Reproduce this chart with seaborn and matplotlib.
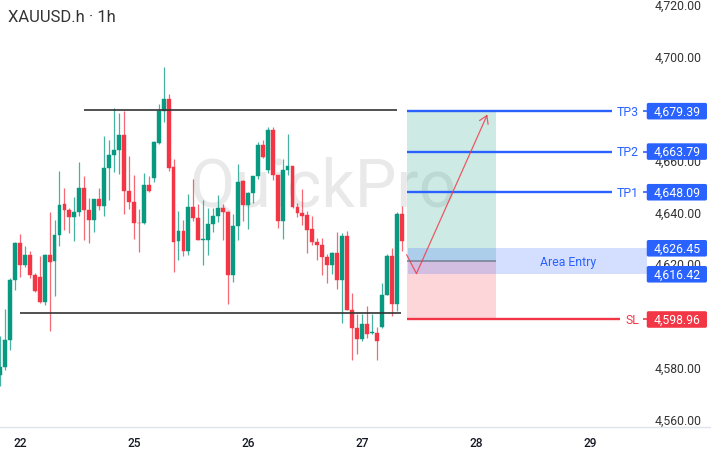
import numpy as np
import pandas as pd
import matplotlib.pyplot as plt
from matplotlib.patches import Rectangle, FancyBboxPatch
from matplotlib.transforms import ScaledTranslation
import seaborn as sns

# Hourly candles
opens = [4577.4, 4580.6, 4591.2, 4614.1, 4628.5, 4620.1, 4624.0, 4616.3, 4615.3, 4605.6,
         4624.0, 4621.4, 4631.7, 4643.4, 4641.3, 4638.6, 4640.4, 4649.8, 4641.3, 4637.5,
         4645.5, 4642.9, 4657.5, 4662.4, 4664.4, 4670.2, 4648.7, 4644.3, 4636.4, 4636.2,
         4650.9, 4653.4, 4667.1, 4679.6, 4683.9, 4657.7, 4629.2, 4633.1, 4625.4, 4642.5,
         4638.0, 4629.7, 4629.8, 4636.0, 4639.1, 4642.0, 4640.6, 4616.0, 4635.2, 4652.5,
         4643.1, 4647.8, 4654.3, 4666.4, 4656.6, 4672.1, 4654.6, 4636.9, 4656.6, 4658.2,
         4642.4, 4640.2, 4639.3, 4633.9, 4628.7, 4627.8, 4622.9, 4620.0, 4624.5, 4614.2,
         4631.3, 4602.6, 4595.8, 4591.3, 4597.4, 4593.7, 4593.6, 4596.0, 4608.6, 4623.3,
         4604.8, 4639.8]
highs = [4592.5, 4603.0, 4615.0, 4628.8, 4631.9, 4627.2, 4625.3, 4616.9, 4623.6, 4624.3,
         4640.4, 4637.3, 4656.2, 4649.8, 4642.0, 4646.3, 4659.7, 4654.3, 4645.9, 4645.6,
         4649.8, 4669.7, 4668.4, 4680.6, 4678.5, 4679.4, 4662.0, 4654.8, 4641.8, 4655.5,
         4654.5, 4667.8, 4682.2, 4696.5, 4686.0, 4660.9, 4641.0, 4637.5, 4647.4, 4653.2,
         4643.6, 4645.0, 4642.0, 4642.0, 4646.9, 4643.7, 4640.7, 4639.6, 4659.0, 4653.0,
         4648.1, 4654.5, 4667.5, 4668.4, 4673.4, 4673.4, 4654.8, 4660.8, 4670.4, 4658.4,
         4644.0, 4649.2, 4640.8, 4638.9, 4630.5, 4630.5, 4624.1, 4625.0, 4632.8, 4632.4,
         4633.1, 4609.0, 4600.9, 4600.9, 4604.1, 4600.9, 4596.0, 4612.9, 4624.3, 4626.7,
         4640.6, 4642.7]
lows = [4573.2, 4579.6, 4587.1, 4610.5, 4615.3, 4619.1, 4615.0, 4609.6, 4605.3, 4604.4,
        4594.4, 4607.9, 4627.2, 4633.4, 4632.4, 4629.4, 4639.1, 4629.8, 4628.3, 4632.8,
        4641.4, 4638.8, 4645.0, 4655.8, 4655.3, 4639.7, 4641.8, 4630.1, 4624.9, 4636.0,
        4648.3, 4652.1, 4666.7, 4675.2, 4656.4, 4617.3, 4622.1, 4623.4, 4623.8, 4636.9,
        4629.7, 4619.9, 4623.8, 4632.6, 4636.5, 4629.8, 4605.0, 4613.5, 4629.8, 4636.8,
        4633.9, 4644.0, 4653.2, 4661.3, 4655.6, 4653.0, 4634.4, 4629.9, 4654.7, 4642.1,
        4638.5, 4635.3, 4624.5, 4627.6, 4622.1, 4616.1, 4613.1, 4616.4, 4610.6, 4597.7,
        4602.5, 4583.2, 4585.7, 4590.6, 4591.9, 4593.2, 4583.5, 4595.8, 4608.4, 4600.3,
        4602.2, 4625.3]
closes = [4580.6, 4591.2, 4614.1, 4628.5, 4620.1, 4624.0, 4616.3, 4610.1, 4605.6, 4624.0,
          4621.2, 4631.7, 4643.2, 4641.1, 4638.6, 4640.4, 4649.8, 4641.1, 4637.5, 4645.5,
          4642.9, 4657.5, 4662.6, 4664.4, 4670.2, 4648.7, 4644.3, 4636.1, 4636.1, 4650.9,
          4648.5, 4667.3, 4679.6, 4683.9, 4657.5, 4629.0, 4633.1, 4625.4, 4642.5, 4638.0,
          4629.8, 4630.1, 4636.0, 4639.1, 4642.0, 4640.4, 4616.0, 4635.2, 4652.2, 4643.1,
          4647.8, 4654.3, 4666.4, 4661.7, 4672.1, 4654.6, 4636.9, 4656.6, 4658.1, 4642.4,
          4640.2, 4639.1, 4633.7, 4628.8, 4627.9, 4622.9, 4620.0, 4624.5, 4614.2, 4631.3,
          4602.6, 4595.5, 4591.3, 4597.4, 4593.2, 4594.0, 4590.6, 4608.6, 4623.3, 4604.8,
          4639.8, 4629.1]

# Day labels and the bar each one sits on
day_bars = [4, 27, 50, 73, 96, 119]
day_labels = ['22', '25', '26', '27', '28', '29']
# 4,600 and 4,680 sit fully behind the price tags, so they are left out
price_ticks = [4560, 4580, 4620, 4640, 4660, 4700, 4720]

# Trade levels
tp_levels = [4679.39, 4663.79, 4648.09]
tp_names = ['TP3', 'TP2', 'TP1']
entry_top = 4626.45
entry_bottom = 4616.42
entry_mid = 4621.4
stop_loss = 4598.96
resistance = 4680.0
support = 4601.3
arrow_x = [82, 84, 98.3]
arrow_y = [4624.0, 4616.7, 4678.1]

GREEN = '#089981'
RED = '#f23645'
BLUE = '#2962ff'
TEXT = '#333333'

sns.set_theme(style='white')
plt.rcParams['font.family'] = ['Roboto', 'DejaVu Sans']

df = pd.DataFrame({'bar': np.arange(len(opens)), 'open': opens, 'high': highs,
                   'low': lows, 'close': closes})
df['bottom'] = df[['open', 'close']].min(axis=1)
df['height'] = (df['close'] - df['open']).abs()
up = df[df['close'] >= df['open']]
down = df[df['close'] < df['open']]

fig = plt.figure(figsize=(7.11, 4.56), dpi=100)
ax = fig.add_axes([0, 28 / 456, 647 / 711, 428 / 456])

# Candle bodies and wicks
for part, colour in [(up, GREEN), (down, RED)]:
    ax.vlines(part['bar'], part['low'], part['high'], color=colour, lw=0.9, alpha=0.75, zorder=2)
    sns.barplot(data=part, x='bar', y='height', bottom=part['bottom'].values, native_scale=True,
                color=colour, saturation=1, width=0.78, errorbar=None, ax=ax,
                edgecolor=colour, linewidth=0.3, zorder=3)

ax.set_xlim(0, 130.5)
ax.set_ylim(4557.45, 4722.7)

# Watermark
ax.text(65.2, 4643.3, 'QuickPro', fontsize=47.5, color='#e9e9e9', ha='center', va='baseline', zorder=0.6)

# Support and resistance
ax.hlines(resistance, 17, 80.1, color='#333333', lw=1.2, zorder=4)
ax.hlines(support, 4, 80.9, color='#333333', lw=1.2, zorder=4)

# Position box
ax.add_patch(Rectangle((82, entry_mid), 18, tp_levels[0] - entry_mid, fc=GREEN, alpha=0.2, lw=0, zorder=1))
ax.add_patch(Rectangle((82, stop_loss), 18, entry_mid - stop_loss, fc=RED, alpha=0.2, lw=0, zorder=1))
ax.add_patch(Rectangle((82.3, entry_bottom), 48.2, entry_top - entry_bottom, fc=BLUE, alpha=0.2, lw=0, zorder=1.2))
ax.hlines(entry_mid, 82, 100, color='#78849a', lw=1.2, zorder=4)
ax.text(114.5, entry_mid, 'Area Entry', color=BLUE, fontsize=8.8, ha='center', va='center', zorder=5)

# TP and SL lines
for level, name in zip(tp_levels, tp_names):
    ax.hlines(level, 82, 123.5, color=BLUE, lw=1.7, zorder=4)
    ax.text(126.7, level, name, color=BLUE, fontsize=8.8, ha='center', va='center', zorder=5)
    ax.hlines(level, 129.7, 130.5, color=BLUE, lw=1.2, zorder=4)
ax.hlines(stop_loss, 82, 125, color=RED, lw=1.7, zorder=4)
ax.text(127.5, stop_loss, 'SL', color=RED, fontsize=8.8, ha='center', va='center', zorder=5)
ax.hlines(stop_loss, 129.7, 130.5, color=RED, lw=1.2, zorder=4)

# Trade path
sns.lineplot(x=arrow_x[:2], y=arrow_y[:2], estimator=None, sort=False, color=RED, lw=0.9, alpha=0.8, ax=ax, zorder=5)
ax.annotate('', xy=(arrow_x[2], arrow_y[2]), xytext=(arrow_x[1], arrow_y[1]), zorder=5,
            arrowprops=dict(arrowstyle='->,head_length=0.45,head_width=0.28', color=RED, lw=0.9,
                            alpha=0.8, shrinkA=0, shrinkB=0))

# Price tags on the right scale
tags = [(v, BLUE) for v in tp_levels] + [(entry_top, BLUE), (entry_bottom, BLUE), (stop_loss, RED)]
for value, colour in tags:
    ax.add_patch(FancyBboxPatch((130.45, value - 3.2), 12.15, 6.4, boxstyle='round,pad=0,rounding_size=0.35',
                                mutation_aspect=1.91, fc=colour, ec='none', clip_on=False, zorder=6))
    ax.text(136.6, value, f'{value:,.2f}', color='white', fontsize=8.8, ha='center', va='center',
            clip_on=False, zorder=7)

# Axes
ax.set_xticks(day_bars, day_labels)
ax.yaxis.tick_right()
ax.set_yticks(price_ticks, [f'{p:,.2f}' for p in price_ticks])
ax.tick_params(axis='y', length=0, pad=5.6, labelsize=8.8, labelcolor=TEXT)
ax.tick_params(axis='x', length=0, pad=6.3, labelsize=8.6, labelcolor='#131722')
for label in ax.get_xticklabels():
    label.set_fontweight('medium')
# Scale labels sit a little above their price
nudge = ScaledTranslation(0, 1.3 / 72, fig.dpi_scale_trans)
for label in ax.get_yticklabels():
    label.set_transform(label.get_transform() + nudge)
ax.set_xlabel('')
ax.set_ylabel('')
sns.despine(ax=ax, left=True, top=True, right=True)
ax.spines['bottom'].set_color('#e0e3eb')
ax.spines['bottom'].set_linewidth(1)
ax.plot([130.8, 143.5], [4557.45, 4557.45], color='#e0e3eb', lw=1, clip_on=False)

fig.text(8 / 711, 1 - 18 / 456, 'XAUUSD.h · 1h', fontsize=12, color=TEXT, ha='left', va='center')

fig.savefig('out.png', dpi=100)
